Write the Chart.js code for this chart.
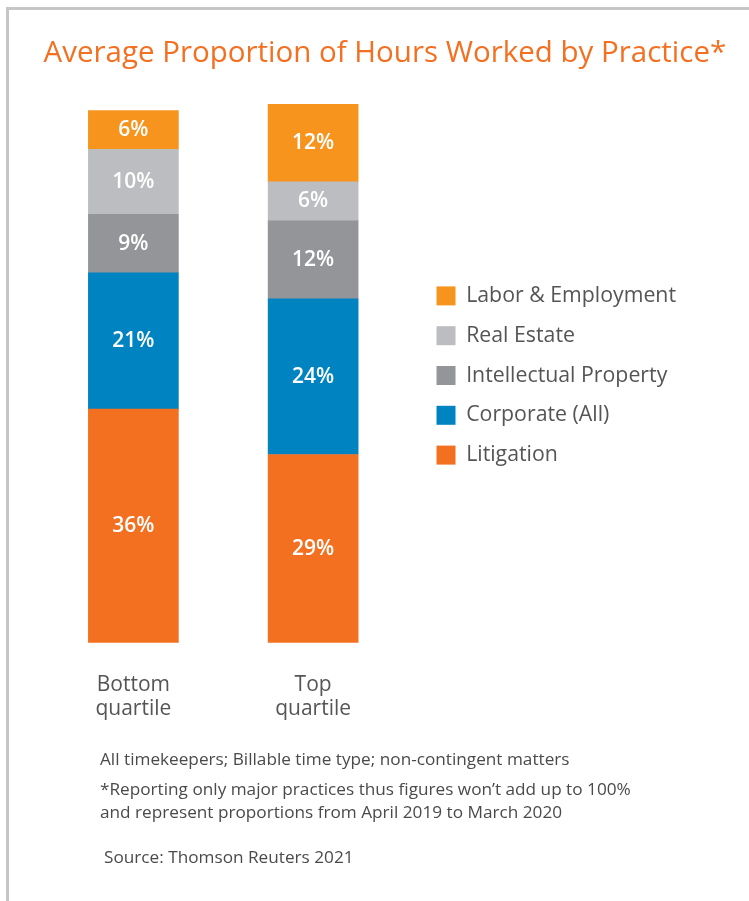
<!DOCTYPE html>
<html>
<head>
<meta charset="utf-8">
<script src="https://cdn.jsdelivr.net/npm/chart.js@4.4.1/dist/chart.umd.min.js"></script>
<style>
  body { margin: 0; background: #fff; }
  #frame { position: absolute; left: 6px; top: 7px; width: 743px; height: 894px;
           border-left: 3px solid #c6c6c6; border-top: 3px solid #c6c6c6; }
  #chart { position: absolute; left: 0; top: 0; }
</style>
</head>
<body>
<div id="frame"></div>
<canvas id="chart" width="749" height="901"></canvas>
<script>
"use strict";

const quartiles = [['Bottom', 'quartile'], ['Top', 'quartile']];
const litigation = [36, 29];
const corporate = [21, 24];
const intellectualProperty = [9, 12];
const realEstate = [10, 6];
const laborEmployment = [6, 12];

const notes = [
  'All timekeepers; Billable time type; non-contingent matters',
  '*Reporting only major practices thus figures won\u2019t add up to 100%',
  'and represent proportions from April 2019 to March 2020'
];
const source = 'Source: Thomson Reuters 2021';

const FONT = "'Open Sans', sans-serif";

// white percentage in the middle of every segment
const segmentLabels = {
  id: 'segmentLabels',
  afterDatasetsDraw(chart) {
    const ctx = chart.ctx;
    ctx.save();
    ctx.fillStyle = '#fff';
    ctx.font = '600 21px ' + FONT;
    ctx.textAlign = 'center';
    ctx.textBaseline = 'middle';
    chart.data.datasets.forEach((ds, i) => {
      chart.getDatasetMeta(i).data.forEach((bar, j) => {
        ctx.fillText(ds.data[j] + '%', bar.x, (bar.y + bar.base) / 2);
      });
    });
    ctx.restore();
  }
};

// footnotes under the axis labels
const footnotes = {
  id: 'footnotes',
  afterDraw(chart) {
    const ctx = chart.ctx;
    ctx.save();
    ctx.fillStyle = '#4a4a4a';
    ctx.font = '17.2px ' + FONT;
    ctx.textBaseline = 'middle';
    ctx.fillText(notes[0], 100, 760);
    ctx.fillText(notes[1], 100, 790);
    ctx.fillText(notes[2], 100, 813);
    ctx.fillText(source, 104, 858);
    ctx.restore();
  }
};

// blank axis used only as a fixed-width spacer
const spacer = (width, weight) => ({
  type: 'linear',
  position: 'right',
  display: true,
  weight: weight,
  grid: { display: false, drawTicks: false },
  border: { display: false },
  ticks: { display: false },
  afterFit: (scale) => { scale.width = width; }
});

const ctx = document.getElementById('chart').getContext('2d');
const myChart = new Chart(ctx, {
  type: 'bar',
  data: {
    labels: quartiles,
    datasets: [
      { label: 'Litigation', data: litigation, backgroundColor: '#f37021' },
      { label: 'Corporate (All)', data: corporate, backgroundColor: '#0083c1' },
      { label: 'Intellectual Property', data: intellectualProperty, backgroundColor: '#939598' },
      { label: 'Real Estate', data: realEstate, backgroundColor: '#bcbdc0' },
      { label: 'Labor & Employment', data: laborEmployment, backgroundColor: '#f7941d' }
    ]
  },
  options: {
    responsive: false,
    animation: false,
    devicePixelRatio: 1,
    layout: { padding: { left: 43.5, right: 0, top: 0, bottom: 150 } },
    datasets: { bar: { barThickness: 90, borderWidth: 0 } },
    scales: {
      x: {
        stacked: true,
        grid: { display: false, drawTicks: false },
        border: { display: false },
        ticks: { color: '#555', padding: 30, font: { family: FONT, size: 21, lineHeight: 1.15 } }
      },
      y: {
        stacked: true,
        min: 0,
        max: 83,
        display: false
      },
      // gap between the bars and the legend, and margin right of the legend
      gap: spacer(15, 0),
      margin: spacer(63, 2000)
    },
    plugins: {
      title: {
        display: true,
        text: 'Average Proportion of Hours Worked by Practice*',
        align: 'start',
        color: '#f37021',
        font: { family: FONT, size: 29.5, weight: 'normal', lineHeight: 1.2 },
        padding: { top: 36, bottom: 32.6 }
      },
      legend: {
        position: 'right',
        reverse: true,
        maxWidth: 320,
        labels: {
          boxWidth: 19,
          boxHeight: 19,
          padding: 18.5,
          color: '#555',
          font: { family: FONT, size: 21.3 }
        }
      },
      tooltip: { enabled: false }
    }
  },
  plugins: [segmentLabels, footnotes]
});
</script>
</body>
</html>
